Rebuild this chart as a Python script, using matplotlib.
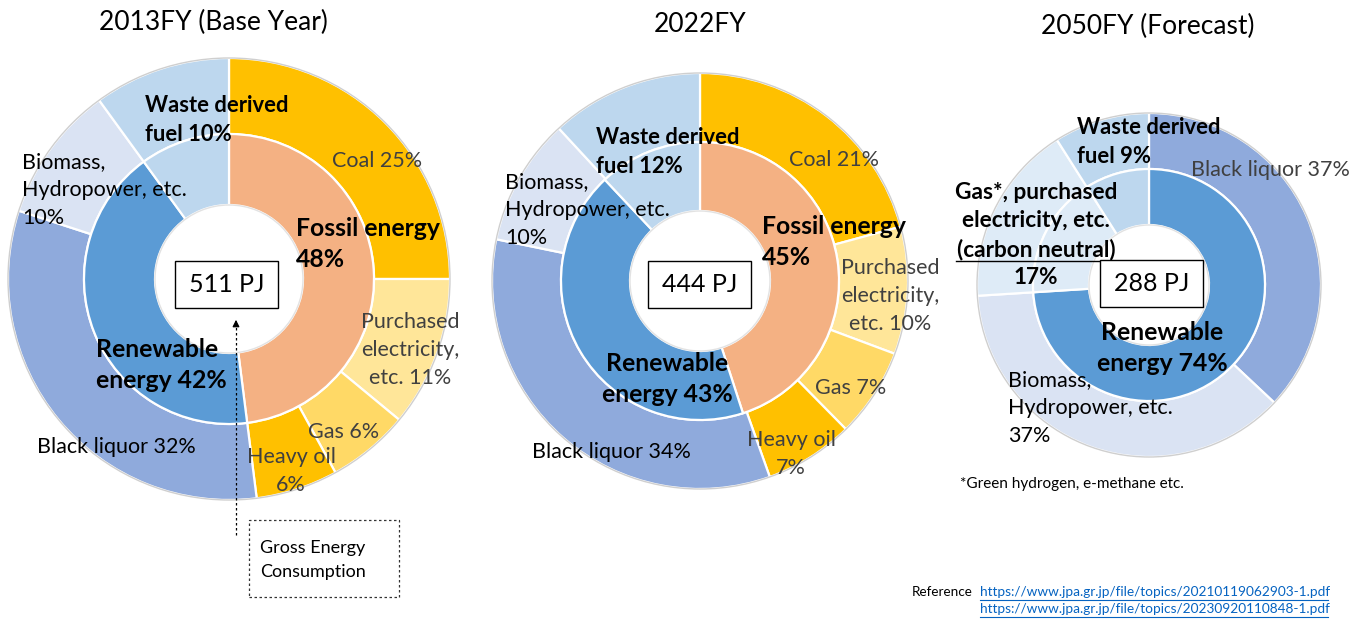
import matplotlib
matplotlib.use("Agg")
import matplotlib.pyplot as plt
from matplotlib.patches import Rectangle, Circle

plt.rcParams['font.family'] = ['Lato', 'DejaVu Sans']

W, H = 1366, 619

# ---------------- data ----------------
titles = ["2013FY (Base Year)", "2022FY", "2050FY (Forecast)"]
totals_pj = [511, 444, 288]

outer_2013 = [25, 11, 6, 6, 32, 10, 10]   # coal, purchased elec, gas, heavy oil, black liquor, biomass, waste
inner_2013 = [48, 42, 10]                 # fossil, renewable, waste
outer_2022 = [21, 10, 7, 7, 34, 10, 12]
inner_2022 = [45, 43, 12]
outer_2050 = [37, 37, 17, 9]              # black liquor, biomass, gas* etc, waste
inner_2050 = [74, 17, 9]                  # renewable, gas* etc, waste

c_coal, c_elec, c_gas, c_oil = "#FFC000", "#FFE699", "#FFD966", "#FFC000"
c_black, c_bio, c_waste = "#8FAADC", "#DAE3F3", "#BDD7EE"
c_fossil, c_renew, c_cn = "#F4B183", "#5B9BD5", "#DEEBF7"

outer_cols = [c_coal, c_elec, c_gas, c_oil, c_black, c_bio, c_waste]
inner_cols = [c_fossil, c_renew, c_waste]
outer_cols_2050 = [c_black, c_bio, c_cn, c_waste]
inner_cols_2050 = [c_renew, c_cn, c_waste]

def ypx(y):
    return H - y

fig = plt.figure(figsize=(W / 100, H / 100), dpi=100)
ax = fig.add_axes([0, 0, 1, 1])

def donut(cx, cy, r, r_mid, r_hole, outer, ocols, inner, icols):
    wp = dict(edgecolor="white", linewidth=1.6)
    ax.pie(outer, colors=ocols, radius=r, center=(cx, ypx(cy)), startangle=90,
           counterclock=False, wedgeprops=dict(width=r - r_mid, **wp))
    ax.pie(inner, colors=icols, radius=r_mid, center=(cx, ypx(cy)), startangle=90,
           counterclock=False, wedgeprops=dict(width=r_mid - r_hole, **wp))
    ax.add_patch(Circle((cx, ypx(cy)), r, fill=False, ec="#cfcfcf", lw=1.0))
    ax.add_patch(Circle((cx, ypx(cy)), r_hole, fill=False, ec="#e2e2e2", lw=1.0))

donut(229, 279, 221, 145, 74, outer_2013, outer_cols, inner_2013, inner_cols)
donut(700, 281, 208, 139, 70, outer_2022, outer_cols, inner_2022, inner_cols)
donut(1149, 285, 172, 116, 60, outer_2050, outer_cols_2050, inner_2050, inner_cols_2050)

FS = 15.5      # normal labels
FB = 15.8      # bold "waste derived" labels
FBIG = 17.8    # bold fossil / renewable labels
LS = 1.48
GR = "#404040"

def txt(x, y, s, ha="center", bold=False, color="black", size=FS, ls=LS):
    ax.text(x, ypx(y), s, ha=ha, va="center", fontsize=size, color=color,
            fontweight="bold" if bold else "normal", linespacing=ls,
            multialignment=ha)

def pj_box(x0, y0, x1, y1, val):
    ax.add_patch(Rectangle((x0, ypx(y1)), x1 - x0, y1 - y0, fc="white", ec="black", lw=1.0, zorder=5))
    ax.text((x0 + x1) / 2, ypx((y0 + y1) / 2), f"{val} PJ", ha="center", va="center",
            fontsize=18, zorder=6)

# titles
txt(213, 22, titles[0], size=19)
txt(700, 25, titles[1], size=19)
txt(1148, 26, titles[2], size=19)

# ---- 2013 labels ----
txt(145, 120, f"Waste derived\nfuel {outer_2013[6]}%", ha="left", bold=True, size=FB)
txt(377, 161, f"Coal {outer_2013[0]}%", color=GR)
txt(296, 244, f"Fossil energy\n{inner_2013[0]}%", ha="left", bold=True, size=FBIG, ls=1.38)
txt(410, 350, f"Purchased\nelectricity,\netc. {outer_2013[1]}%", color=GR)
txt(344, 432, f"Gas {outer_2013[2]}%", color=GR)
txt(291, 471, f"Heavy oil\n{outer_2013[3]}%", color=GR)
txt(96, 365, f"Renewable\nenergy {inner_2013[1]}%", ha="left", bold=True, size=FBIG, ls=1.38)
txt(37, 447, f"Black liquor {outer_2013[4]}%", ha="left")
txt(22, 190, f"Biomass,\nHydropower, etc.\n{outer_2013[5]}%", ha="left")
pj_box(175, 261, 278, 308, totals_pj[0])

# gross energy consumption note
ax.plot([236, 236], [ypx(535), ypx(326)], ls=(0, (2, 2)), color="black", lw=0.9)
ax.annotate("", xy=(236, ypx(317)), xytext=(236, ypx(327)),
            arrowprops=dict(arrowstyle="-|>", color="black", lw=0.9, mutation_scale=10))
ax.add_patch(Rectangle((249, ypx(597)), 150, 77, fill=False, ec="#333333", lw=0.9, ls=(0, (2, 2))))
txt(260, 560, "Gross Energy\nConsumption", ha="left", size=13, ls=1.55)

# ---- 2022 labels ----
txt(596, 152, f"Waste derived\nfuel {outer_2022[6]}%", ha="left", bold=True, size=FB)
txt(834, 160, f"Coal {outer_2022[0]}%", color=GR)
txt(762, 242, f"Fossil energy\n{inner_2022[0]}%", ha="left", bold=True, size=FBIG, ls=1.38)
txt(890, 296, f"Purchased\nelectricity,\netc. {outer_2022[1]}%", color=GR)
txt(851, 388, f"Gas {outer_2022[2]}%", color=GR)
txt(791, 454, f"Heavy oil\n{outer_2022[3]}%", color=GR)
txt(667, 379, f"Renewable\nenergy {inner_2022[1]}%", bold=True, size=FBIG, ls=1.38)
txt(611, 452, f"Black liquor {outer_2022[4]}%")
txt(505, 210, f"Biomass,\nHydropower, etc.\n{outer_2022[5]}%", ha="left")
pj_box(648, 261, 751, 308, totals_pj[1])

# ---- 2050 labels ----
txt(1077, 142, f"Waste derived\nfuel {outer_2050[3]}%", ha="left", bold=True, size=FB)
txt(1270, 170, f"Black liquor {outer_2050[0]}%", color=GR)
txt(1036, 235, f"Gas*, purchased\nelectricity, etc.\n(carbon neutral)\n{outer_2050[2]}%",
    bold=True, size=16.3, ls=1.42)
ax.plot([956, 1116], [ypx(261), ypx(261)], color="black", lw=1.0, zorder=4)
pj_box(1100, 260, 1203, 307, totals_pj[2])
txt(1162, 348, f"Renewable\nenergy {inner_2050[0]}%", bold=True, size=FBIG, ls=1.38)
txt(1008, 408, f"Biomass,\nHydropower, etc.\n{outer_2050[1]}%", ha="left")
txt(960, 484, "*Green hydrogen, e-methane etc.", ha="left", size=11)

# ---- references ----
LINK = "#0563C1"
links = ["https://www.jpa.gr.jp/file/topics/20210119062903-1.pdf",
         "https://www.jpa.gr.jp/file/topics/20230920110848-1.pdf"]
txt(973, 592, "Reference", ha="right", size=9.7)
for lk, yy in zip(links, [592, 609]):
    ax.text(980, ypx(yy), lk, ha="left", va="center", fontsize=9.8, color=LINK)
    ax.plot([980, 1328], [ypx(yy + 8), ypx(yy + 8)], color=LINK, lw=0.8)

ax.set_xlim(0, W)
ax.set_ylim(0, H)
ax.set_aspect("equal")
ax.axis("off")
fig.savefig("out.png", dpi=100, facecolor="white")
